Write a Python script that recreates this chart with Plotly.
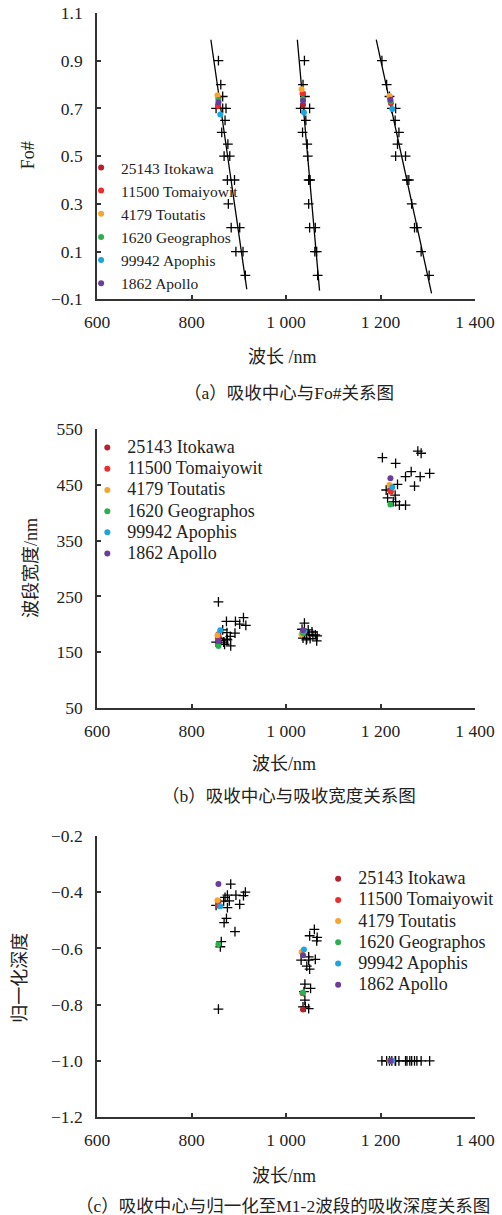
import plotly.graph_objects as go

# ---------------- data ----------------
asteroids = ["25143 Itokawa", "11500 Tomaiyowit", "4179 Toutatis",
             "1620 Geographos", "99942 Apophis", "1862 Apollo"]
colors = ["#B5212E", "#EE2C2C", "#F6A630", "#2FAE50", "#1DA5DD", "#6A3E98"]

# band centres (nm) of each asteroid: [band1, band2, band3]
ast_wl = [
    [857, 1036, 1220],
    [856, 1035, 1222],
    [855, 1033, 1219],
    [857, 1036, 1221],
    [861, 1038, 1225],
    [857, 1036, 1221],
]
ast_fo = [
    [0.745, 0.715, 0.745],
    [0.710, 0.762, 0.722],
    [0.755, 0.780, 0.752],
    [0.735, 0.740, 0.730],
    [0.675, 0.683, 0.698],
    [0.725, 0.732, 0.736],
]
ast_width = [
    [182, 186, 441],
    [176, 185, 438],
    [180, 182, 450],
    [161, 184, 415],
    [189, 188, 446],
    [170, 189, 462],
]
ast_depth = [
    [-0.432, -0.817, -1.0],
    [-0.447, -0.760, -1.0],
    [-0.429, -0.613, -1.0],
    [-0.585, -0.757, -1.0],
    [-0.450, -0.604, -1.0],
    [-0.371, -0.624, -1.0],
]

# (a) laboratory olivine: band centre vs Fo#
lab_a_wl1 = [857, 862, 866, 852, 866, 873, 871, 864, 877, 869, 881, 876, 891, 878, 884, 902, 894, 909, 914]
lab_a_fo1 = [0.9, 0.8, 0.75, 0.7, 0.7, 0.7, 0.65, 0.6, 0.55, 0.5, 0.5, 0.4, 0.4, 0.3, 0.2, 0.2, 0.1, 0.1, 0.0]
lab_a_wl2 = [1039, 1036, 1040, 1031, 1038, 1050, 1042, 1035, 1045, 1046, 1048, 1051, 1048, 1050, 1062, 1061, 1065, 1067]
lab_a_fo2 = [0.9, 0.8, 0.75, 0.7, 0.7, 0.7, 0.65, 0.6, 0.55, 0.5, 0.4, 0.4, 0.3, 0.2, 0.2, 0.1, 0.1, 0.0]
lab_a_wl3 = [1203, 1213, 1219, 1224, 1232, 1231, 1239, 1236, 1232, 1253, 1256, 1260, 1266, 1272, 1277, 1286, 1303]
lab_a_fo3 = [0.9, 0.8, 0.75, 0.7, 0.7, 0.65, 0.6, 0.55, 0.5, 0.5, 0.4, 0.4, 0.3, 0.2, 0.2, 0.1, 0.0]

# (a) fitted lines (end points)
fit_wl = [[841, 917], [1024, 1071], [1191, 1308]]
fit_fo = [[0.988, -0.058], [0.988, -0.064], [0.988, -0.075]]

# (b) laboratory olivine: band centre vs band width
lab_b_wl = [857, 874, 893, 910, 902, 915, 866, 875, 892, 882, 861, 875, 852, 868, 883, 870, 862, 876,
            1039, 1034, 1047, 1055, 1036, 1044, 1051, 1062, 1066, 1065, 1039, 1049, 1043, 1057,
            1204, 1232, 1279, 1286, 1265, 1253, 1284, 1304, 1236, 1272, 1212, 1231, 1215, 1227, 1232, 1240, 1253]
lab_b_w = [240, 205, 205, 212, 200, 198, 190, 185, 184, 178, 175, 173, 168, 168, 161, 164, 171, 172,
           202, 191, 190, 186, 175, 174, 174, 181, 179, 170, 184, 181, 172, 180,
           499, 489, 511, 507, 474, 465, 465, 471, 451, 448, 441, 432, 427, 420, 420, 414, 414]

# (c) laboratory olivine: band centre vs normalised depth
lab_c_wl = [883, 914, 910, 894, 876, 871, 880, 868, 852, 876, 902, 874, 869, 892, 863, 861, 857,
            1060, 1050, 1066, 1065, 1048, 1032, 1048, 1062, 1044, 1050, 1040, 1052, 1038, 1040, 1036, 1048, 1041,
            1203, 1213, 1219, 1224, 1231, 1232, 1239, 1253, 1256, 1262, 1266, 1272, 1277, 1286, 1304]
lab_c_d = [-0.371, -0.400, -0.412, -0.410, -0.410, -0.418, -0.431, -0.432, -0.447, -0.455, -0.443, -0.493,
           -0.508, -0.540, -0.576, -0.594, -0.816,
           -0.532, -0.555, -0.561, -0.573, -0.630, -0.642, -0.642, -0.639, -0.663, -0.674, -0.727, -0.742,
           -0.754, -0.784, -0.808, -0.814, -0.808,
           -1.0, -1.0, -1.0, -1.0, -1.0, -1.0, -1.0, -1.0, -1.0, -1.0, -1.0, -1.0, -1.0, -1.0, -1.0]

x_ticks = [600, 800, 1000, 1200, 1400]
x_ticktext = ["600", "800", "1 000", "1 200", "1 400"]
ya_ticks = [-0.1, 0.1, 0.3, 0.5, 0.7, 0.9, 1.1]
ya_ticktext = ["\u22120.1", "0.1", "0.3", "0.5", "0.7", "0.9", "1.1"]
yb_ticks = [50, 150, 250, 350, 450, 550]
yb_ticktext = ["50", "150", "250", "350", "450", "550"]
yc_ticks = [-1.2, -1.0, -0.8, -0.6, -0.4, -0.2]
yc_ticktext = ["\u22121.2", "\u22121.0", "\u22120.8", "\u22120.6", "\u22120.4", "\u22120.2"]

captions = ["（a）吸收中心与Fo#关系图",
            "（b）吸收中心与吸收宽度关系图",
            "（c）吸收中心与归一化至M1-2波段的吸收深度关系图"]

# ---------------- figure ----------------
SERIF = "Liberation Serif, Noto Sans CJK SC, serif"
CJK = "Liberation Serif, Noto Sans CJK SC, sans-serif"
INK = "#222222"
AX = "#333333"

fig = go.Figure()

cross = dict(symbol="cross-thin", size=7, color="black", line=dict(width=1.3, color="black"))

# panel (a)
for wl, fo in zip(fit_wl, fit_fo):
    fig.add_trace(go.Scatter(x=wl, y=fo, mode="lines", line=dict(color="black", width=1.3),
                             showlegend=False, xaxis="x", yaxis="y", hoverinfo="skip"))
for wl, fo in [(lab_a_wl1, lab_a_fo1), (lab_a_wl2, lab_a_fo2), (lab_a_wl3, lab_a_fo3)]:
    fig.add_trace(go.Scatter(x=wl, y=fo, mode="markers", marker=cross, showlegend=False,
                             xaxis="x", yaxis="y"))
for i, name in enumerate(asteroids):
    fig.add_trace(go.Scatter(x=ast_wl[i], y=ast_fo[i], mode="markers", name=name,
                             marker=dict(size=6, color=colors[i]), legend="legend",
                             xaxis="x", yaxis="y"))

# panel (b)
fig.add_trace(go.Scatter(x=lab_b_wl, y=lab_b_w, mode="markers", marker=cross, showlegend=False,
                         xaxis="x2", yaxis="y2"))
for i, name in enumerate(asteroids):
    fig.add_trace(go.Scatter(x=ast_wl[i], y=ast_width[i], mode="markers",
                             name='<span style="font-size:18px">%s</span>' % name,
                             marker=dict(size=6, color=colors[i]), legend="legend2",
                             xaxis="x2", yaxis="y2"))

# panel (c)
fig.add_trace(go.Scatter(x=lab_c_wl, y=lab_c_d, mode="markers", marker=cross, showlegend=False,
                         xaxis="x3", yaxis="y3"))
for i, name in enumerate(asteroids):
    fig.add_trace(go.Scatter(x=ast_wl[i], y=ast_depth[i], mode="markers",
                             name='<span style="font-size:18px">%s</span>' % name,
                             marker=dict(size=6, color=colors[i]), legend="legend3",
                             xaxis="x3", yaxis="y3"))

common_x = dict(range=[600, 1400], tickmode="array", tickvals=x_ticks, ticktext=x_ticktext,
                showline=True, linecolor=AX, linewidth=1.6, ticks="inside", ticklen=4,
                tickwidth=1.5, tickcolor=AX, showgrid=False, zeroline=False, automargin=False,
                tickfont=dict(family=SERIF, size=17.5, color=INK), ticklabelstandoff=6)
common_y = dict(showline=True, linecolor=AX, linewidth=1.6, ticks="inside", ticklen=4,
                tickwidth=1.5, tickcolor=AX, showgrid=False, zeroline=False, tickmode="array",
                automargin=False,
                tickfont=dict(family=SERIF, size=17.5, color=INK), ticklabelstandoff=9)

dom_a = [0.7407, 1.0]
dom_b = [0.3707, 0.6229]
dom_c = [0.0, 0.2545]

fig.update_layout(
    template="none",
    width=502, height=1215,
    margin=dict(l=97, r=27, t=13, b=98, autoexpand=False),
    paper_bgcolor="white", plot_bgcolor="white",
    font=dict(family=SERIF, color=INK),
    xaxis=dict(common_x, anchor="y"),
    yaxis=dict(common_y, domain=dom_a, range=[-0.1, 1.1], tickvals=ya_ticks, ticktext=ya_ticktext, anchor="x"),
    xaxis2=dict(common_x, anchor="y2"),
    yaxis2=dict(common_y, domain=dom_b, range=[50, 550], tickvals=yb_ticks, ticktext=yb_ticktext, anchor="x2"),
    xaxis3=dict(common_x, anchor="y3"),
    yaxis3=dict(common_y, domain=dom_c, range=[-1.2, -0.2], tickvals=yc_ticks, ticktext=yc_ticktext, anchor="x3"),
    legend=dict(x=-0.042, y=0.8751, xanchor="left", yanchor="top", bgcolor="rgba(0,0,0,0)",
                font=dict(family=SERIF, size=15.5, color=INK), itemwidth=30, borderwidth=0),
    legend2=dict(x=-0.0256, y=0.6205, xanchor="left", yanchor="top", bgcolor="rgba(0,0,0,0)",
                 font=dict(family=SERIF, size=14, color=INK), itemwidth=30, borderwidth=0),
    legend3=dict(x=0.585, y=0.2300, xanchor="left", yanchor="top", bgcolor="rgba(0,0,0,0)",
                 font=dict(family=SERIF, size=14, color=INK), itemwidth=30, borderwidth=0),
    showlegend=True,
)

# axis titles and captions as annotations
ann = []
def add_text(text, x, y, size=18, angle=0, xanchor="center"):
    ann.append(dict(text=text, x=x, y=y, xref="paper", yref="paper", showarrow=False,
                    textangle=angle, xanchor=xanchor, yanchor="middle",
                    font=dict(family=CJK, size=size, color=INK)))

add_text("波长 /nm", 0.49, 0.6884)
add_text("波长/nm", 0.495, 0.3200)
add_text("波长/nm", 0.495, -0.0531)
add_text("Fo#", -0.1815, 0.8714, angle=-90)
add_text("波段宽度/nm", -0.1762, 0.4977, angle=-90)
add_text("归一化深度", -0.2027, 0.1264, angle=-90)
add_text(captions[0], 0.508, 0.6558, size=17.5)
add_text(captions[1], 0.508, 0.2908, size=17.5)
add_text(captions[2], -0.062, -0.0806, size=17.5, xanchor="left")
fig.update_layout(annotations=ann)

fig.write_html("out.html")
